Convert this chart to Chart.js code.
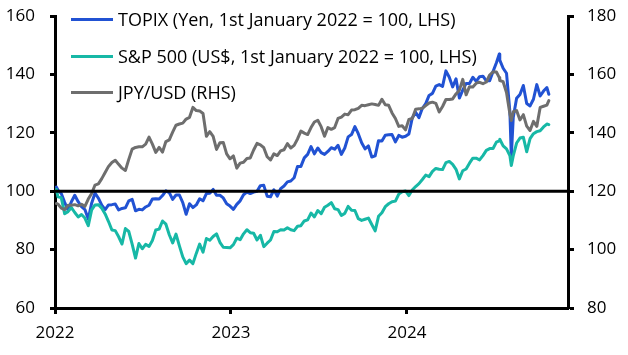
<!DOCTYPE html>
<html><head><meta charset="utf-8">
<script src="https://cdn.jsdelivr.net/npm/chart.js@4.4.0/dist/chart.umd.min.js"></script>
<style>
html,body{margin:0;padding:0;background:#fff;}
#wrap{position:relative;width:628px;height:355px;overflow:hidden;}
#legend{position:absolute;left:0;top:0;font-family:'Open Sans',sans-serif;font-size:18px;color:#000;}
.item{position:absolute;left:71px;white-space:nowrap;display:flex;align-items:center;height:24px;line-height:24px;}
.sw{display:inline-block;width:42px;height:3px;margin-right:5px;}
</style></head><body>
<div id="wrap"><canvas id="c" width="628" height="355"></canvas><div id="legend"></div></div>
<script>
const dates = [
"2022-01-04","2022-01-07","2022-01-14","2022-01-21","2022-01-28","2022-02-04","2022-02-11","2022-02-18","2022-02-25","2022-03-04","2022-03-11","2022-03-18","2022-03-25","2022-04-01","2022-04-08","2022-04-15","2022-04-22","2022-04-29","2022-05-06","2022-05-13","2022-05-20","2022-05-27","2022-06-03","2022-06-10","2022-06-17","2022-06-24","2022-07-01","2022-07-08","2022-07-15","2022-07-22","2022-07-29","2022-08-05","2022-08-12","2022-08-19","2022-08-26","2022-09-02","2022-09-09","2022-09-16","2022-09-23","2022-09-30","2022-10-07","2022-10-14","2022-10-21","2022-10-28","2022-11-04","2022-11-11","2022-11-18","2022-11-25","2022-12-02","2022-12-09","2022-12-16","2022-12-23","2022-12-30",
"2023-01-06","2023-01-13","2023-01-20","2023-01-27","2023-02-03","2023-02-10","2023-02-17","2023-02-24","2023-03-03","2023-03-10","2023-03-17","2023-03-24","2023-03-31","2023-04-07","2023-04-14","2023-04-21","2023-04-28","2023-05-05","2023-05-12","2023-05-19","2023-05-26","2023-06-02","2023-06-09","2023-06-16","2023-06-23","2023-06-30","2023-07-07","2023-07-14","2023-07-21","2023-07-28","2023-08-04","2023-08-11","2023-08-18","2023-08-25","2023-09-01","2023-09-08","2023-09-15","2023-09-22","2023-09-29","2023-10-06","2023-10-13","2023-10-20","2023-10-27","2023-11-03","2023-11-10","2023-11-17","2023-11-24","2023-12-01","2023-12-08","2023-12-15","2023-12-22","2023-12-29",
"2024-01-05","2024-01-12","2024-01-19","2024-01-26","2024-02-02","2024-02-09","2024-02-16","2024-02-23","2024-03-01","2024-03-08","2024-03-15","2024-03-22","2024-03-29","2024-04-05","2024-04-12","2024-04-19","2024-04-26","2024-05-03","2024-05-10","2024-05-17","2024-05-24","2024-05-31","2024-06-07","2024-06-14","2024-06-21","2024-06-28","2024-07-05","2024-07-11","2024-07-12","2024-07-19","2024-07-26","2024-08-02","2024-08-05","2024-08-09","2024-08-16","2024-08-23","2024-08-30","2024-09-06","2024-09-13","2024-09-20","2024-09-27","2024-10-04","2024-10-11","2024-10-18","2024-10-22"
];
const topix = [
101.4,100.4,99.2,96.2,93.5,96.4,98.6,96.4,94.7,93.7,90.5,95.9,99.4,97.6,95.2,93.7,95.3,95.4,95.6,93.6,94.1,94.3,96.7,97.2,93.3,93.8,93.6,94.6,95.2,97.3,97.4,97.3,98.5,100.1,99.5,97.2,98.7,98.7,96.1,92.1,95.7,94.4,95.3,97.4,96.7,99.2,99.3,100.6,98.6,98.6,97.7,95.7,94.9,
93.8,95.5,96.7,98.8,99.7,99.2,99.7,100.0,101.9,102.0,98.3,98.1,100.5,98.3,100.9,101.8,103.2,103.5,104.6,108.5,108.5,111.4,112.6,115.3,112.8,114.8,113.2,112.6,113.6,114.9,114.4,115.7,112.6,114.8,118.6,119.4,122.1,119.7,116.6,114.5,115.5,111.7,112.1,117.3,117.2,119.2,119.3,119.4,116.9,119.1,118.5,118.8,
119.6,125.1,127.0,125.2,128.4,130.0,132.8,133.5,136.0,136.5,135.9,141.2,139.0,135.7,138.5,131.9,134.6,136.9,136.9,139.0,137.6,139.2,139.4,137.8,137.8,141.0,144.0,147.0,144.9,142.1,140.4,127.3,111.8,125.2,131.8,133.1,136.2,130.0,129.2,131.5,136.5,132.6,134.3,135.5,133.2
];
const spx = [
100.6,98.1,97.8,92.3,93.0,94.4,92.7,91.2,92.0,90.8,88.2,93.6,95.3,95.4,94.2,92.2,89.6,86.7,86.5,84.4,81.9,87.2,86.2,81.9,77.1,82.1,80.3,81.8,81.1,83.1,86.7,87.0,89.8,88.7,85.1,82.3,85.3,81.3,77.5,75.2,76.4,75.2,78.7,81.9,79.1,83.8,83.2,84.5,85.4,82.5,80.8,80.7,80.6,
81.7,83.9,83.4,85.4,86.8,85.8,85.6,83.3,84.9,81.0,82.2,83.3,86.2,86.1,86.8,86.7,87.5,86.8,86.5,88.0,88.2,89.8,90.2,92.5,91.2,93.4,92.3,94.5,95.2,96.1,94.0,93.7,91.7,92.4,94.8,93.5,93.4,90.6,90.0,90.4,90.8,88.6,86.4,91.4,92.6,94.7,95.7,96.4,96.6,99.0,99.8,100.1,
98.5,100.4,101.6,102.6,104.0,105.5,105.0,106.8,107.8,107.5,107.4,109.8,110.2,109.2,107.5,104.2,107.0,107.6,109.6,111.3,111.3,110.7,112.2,114.0,114.6,114.6,116.8,117.2,117.8,115.5,114.5,112.2,108.8,112.1,116.5,118.2,118.5,113.5,118.0,119.7,120.4,120.7,122.0,123.0,122.8
];
const jpyusd = [
115.8,115.6,114.2,113.7,115.2,115.2,115.4,115.0,115.5,114.8,117.3,119.2,122.1,122.5,124.3,126.4,128.5,129.8,130.6,129.2,127.9,127.1,130.9,134.4,135.0,135.2,135.2,136.1,138.5,136.1,133.3,135.0,133.4,137.0,137.6,140.2,142.6,143.0,143.3,144.7,145.3,148.7,147.6,147.5,146.6,138.8,140.4,138.8,134.3,136.6,136.7,132.8,131.1,
132.1,127.9,129.6,129.9,131.2,131.4,134.1,136.4,135.9,134.9,131.8,130.7,132.8,132.2,133.8,134.2,136.3,134.8,135.7,137.9,140.6,139.9,139.4,141.8,143.7,144.3,142.1,138.8,141.8,141.2,141.8,144.9,145.4,146.4,146.2,147.8,147.9,148.4,149.4,149.3,149.6,149.9,149.7,149.4,151.5,149.6,149.4,146.8,144.9,142.2,142.4,141.0,
144.6,144.9,148.1,148.2,148.4,149.3,150.2,150.5,150.1,147.1,149.0,151.4,151.4,151.6,153.3,154.6,158.3,153.0,155.8,155.7,157.0,157.3,156.8,157.4,159.8,160.9,160.8,158.9,157.9,157.5,153.8,146.5,144.2,147.2,147.6,144.4,146.2,142.3,140.8,143.9,142.2,148.7,149.1,149.5,151.0
];
const seriesLabels = ["TOPIX (Yen, 1st January 2022 = 100, LHS)","S&P 500 (US$, 1st January 2022 = 100, LHS)","JPY/USD (RHS)"];
const seriesColors = ["#2152D3","#17B8A6","#6E6E6E"];
const leftTicks = [60,80,100,120,140,160];
const rightTicks = [80,100,120,140,160,180];
const yearTicks = [2022,2023,2024];
const xEnd = 2024.915;
const refLevel = 100;

function toYear(s){const p=s.split('-').map(Number);const t0=Date.UTC(p[0],0,1),t1=Date.UTC(p[0]+1,0,1);return p[0]+(Date.UTC(p[0],p[1]-1,p[2])-t0)/(t1-t0);}
const xs = dates.map(toYear);
const pts = arr => arr.map((v,i)=>({x:xs[i],y:v}));

// legend
const lg=document.getElementById('legend');
const legendTops=[7,44,80];
seriesLabels.forEach((t,i)=>{const d=document.createElement('div');d.className='item';d.style.top=legendTops[i]+'px';
const s=document.createElement('span');s.className='sw';s.style.background=seriesColors[i];d.appendChild(s);
const tx=document.createElement('span');tx.textContent=t;d.appendChild(tx);lg.appendChild(d);});

Chart.defaults.font.family="'Open Sans', sans-serif";
Chart.defaults.font.size=17;
Chart.defaults.color='#000';

const refLine={id:'refLine',afterDatasetsDraw(ch){const y=ch.scales.y.getPixelForValue(refLevel);const a=ch.chartArea;const c=ch.ctx;c.save();c.strokeStyle='#000';c.lineWidth=3;c.beginPath();c.moveTo(a.left,y);c.lineTo(a.right,y);c.stroke();c.restore();}};

new Chart(document.getElementById('c'),{
 type:'line',
 data:{datasets:[
  {label:seriesLabels[0],data:pts(topix),borderColor:seriesColors[0],borderWidth:3,pointRadius:0,yAxisID:'y',order:3},
  {label:seriesLabels[1],data:pts(spx),borderColor:seriesColors[1],borderWidth:3,pointRadius:0,yAxisID:'y',order:2},
  {label:seriesLabels[2],data:pts(jpyusd),borderColor:seriesColors[2],borderWidth:3,pointRadius:0,yAxisID:'y2',order:1}
 ]},
 options:{responsive:false,animation:false,parsing:true,
  layout:{padding:{top:16,left:0,right:0,bottom:0}},
  plugins:{legend:{display:false},tooltip:{enabled:false}},
  elements:{line:{borderJoinStyle:'round',borderCapStyle:'round'}},
  scales:{
   x:{type:'linear',min:2022,max:xEnd,
      afterBuildTicks:s=>{s.ticks=yearTicks.map(v=>({value:v}));},
      afterFit:s=>{s.height=47;},
      ticks:{callback:v=>String(v),padding:9,maxRotation:0,autoSkip:false},
      grid:{display:true,drawOnChartArea:false,drawTicks:true,color:'#000',tickWidth:3,tickLength:6},
      border:{display:true,color:'#000',width:3}},
   y:{position:'left',min:60,max:160,
      afterBuildTicks:s=>{s.ticks=leftTicks.map(v=>({value:v}));},
      afterFit:s=>{s.width=55;},
      ticks:{padding:15,font:{size:17,lineHeight:0.05}},
      grid:{display:true,drawOnChartArea:false,drawTicks:true,color:'#000',tickWidth:3,tickLength:5},
      border:{display:true,color:'#000',width:3}},
   y2:{position:'right',min:80,max:180,
      afterBuildTicks:s=>{s.ticks=rightTicks.map(v=>({value:v}));},
      afterFit:s=>{s.width=60;},
      ticks:{padding:13,font:{size:17,lineHeight:0.05}},
      grid:{display:true,drawOnChartArea:false,drawTicks:true,color:'#000',tickWidth:3,tickLength:6},
      border:{display:true,color:'#000',width:3}}
  }
 },
 plugins:[refLine]
});
</script>
</body></html>
